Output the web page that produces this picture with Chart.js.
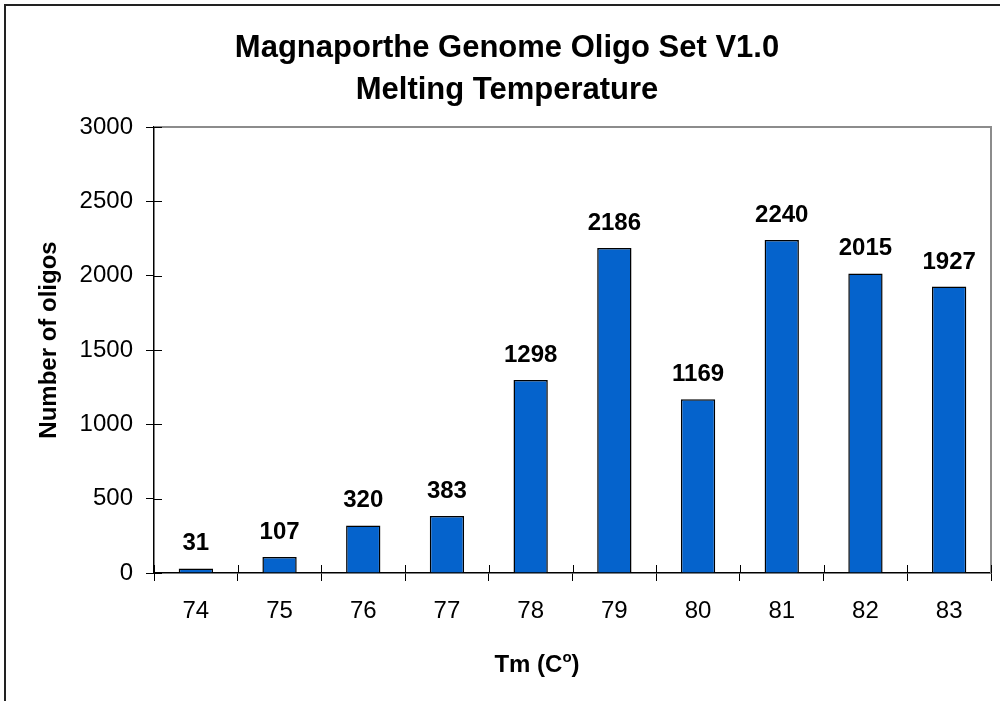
<!DOCTYPE html>
<html>
<head>
<meta charset="utf-8">
<script src="https://cdn.jsdelivr.net/npm/chart.js@4/dist/chart.umd.min.js"></script>
<style>
  html, body { margin: 0; padding: 0; background: #fff; }
  #wrap { width: 1000px; height: 701px; position: relative; }
</style>
</head>
<body>
<div id="wrap"><canvas id="tmChart" width="1000" height="701"></canvas></div>
<script>
// data
const categories = ['74', '75', '76', '77', '78', '79', '80', '81', '82', '83'];
const oligoCounts = [31, 107, 320, 383, 1298, 2186, 1169, 2240, 2015, 1927];
const yTicks = [0, 500, 1000, 1500, 2000, 2500, 3000];
const titleLines = ['Magnaporthe Genome Oligo Set V1.0', 'Melting Temperature'];
const yTitle = 'Number of oligos';

const FONT = 'Arial, "Liberation Sans", Helvetica, sans-serif';

// frame, titles, inner tick halves, plot border and bar labels
const decorations = {
    id: 'decorations',
    beforeDraw(chart) {
        const c = chart.ctx;
        c.save();
        c.fillStyle = '#fff';
        c.fillRect(0, 0, chart.width, chart.height);
        c.strokeStyle = '#222';
        c.lineWidth = 2;
        c.beginPath();
        c.moveTo(5, chart.height);
        c.lineTo(5, 5);
        c.lineTo(chart.width, 5);
        c.stroke();
        c.restore();
    },
    afterDraw(chart) {
        const c = chart.ctx;
        const a = chart.chartArea;
        const y = chart.scales.y;
        c.save();

        // gray plot border top/right
        c.strokeStyle = '#8c8c8c';
        c.lineWidth = 2;
        c.beginPath();
        c.moveTo(a.left, a.top);
        c.lineTo(a.right, a.top);
        c.lineTo(a.right, a.bottom);
        c.stroke();

        // inner half of the crossing ticks
        c.strokeStyle = '#000';
        c.lineWidth = 1;
        c.beginPath();
        yTicks.forEach(v => {
            const py = Math.round(y.getPixelForValue(v)) + 0.5;
            c.moveTo(a.left, py);
            c.lineTo(a.left + 8, py);
        });
        const step = (a.right - a.left) / categories.length;
        for (let i = 0; i <= categories.length; i++) {
            const px = Math.round(a.left + i * step) + 0.5;
            c.moveTo(px, a.bottom);
            c.lineTo(px, a.bottom - 8);
        }
        c.stroke();

        // value labels
        c.fillStyle = '#000';
        c.font = 'bold 24px ' + FONT;
        c.textAlign = 'center';
        c.textBaseline = 'alphabetic';
        chart.getDatasetMeta(0).data.forEach((bar, i) => {
            c.fillText(String(oligoCounts[i]), bar.x, bar.y - 18);
        });

        // chart title
        c.font = 'bold 31px ' + FONT;
        c.fillText(titleLines[0], 507, 57);
        c.fillText(titleLines[1], 507, 99);

        // y axis title
        c.font = 'bold 24px ' + FONT;
        c.save();
        c.translate(56, 340);
        c.rotate(-Math.PI / 2);
        c.fillText(yTitle, 0, 0);
        c.restore();

        // x axis title with superscript o
        c.textAlign = 'left';
        const base = 'Tm (C';
        c.font = 'bold 24px ' + FONT;
        const w1 = c.measureText(base).width;
        c.font = 'bold 15px ' + FONT;
        const w2 = c.measureText('o').width;
        c.font = 'bold 24px ' + FONT;
        const w3 = c.measureText(')').width;
        let sx = 537 - (w1 + w2 + w3) / 2;
        const by = 672;
        c.fillText(base, sx, by);
        sx += w1;
        c.font = 'bold 15px ' + FONT;
        c.fillText('o', sx, by - 10);
        sx += w2;
        c.font = 'bold 24px ' + FONT;
        c.fillText(')', sx, by);
        c.restore();
    }
};

new Chart(document.getElementById('tmChart'), {
    type: 'bar',
    data: {
        labels: categories,
        datasets: [{
            data: oligoCounts,
            backgroundColor: '#0563cc',
            borderColor: '#000',
            borderWidth: 1.5,
            categoryPercentage: 1,
            barPercentage: 0.41
        }]
    },
    options: {
        responsive: false,
        animation: false,
        layout: { padding: { left: 0, top: 127, right: 9, bottom: 0 } },
        plugins: {
            legend: { display: false },
            title: { display: false },
            tooltip: { enabled: false }
        },
        scales: {
            x: {
                afterFit: s => { s.height = 128; },
                grid: { offset: true, drawOnChartArea: false, drawTicks: true, tickLength: 8, color: '#000' },
                border: { color: '#000', width: 1.5 },
                ticks: { color: '#000', font: { family: FONT, size: 24 }, padding: 16, maxRotation: 0 }
            },
            y: {
                min: 0,
                max: 3000,
                afterFit: s => { s.width = 154; },
                afterBuildTicks: s => { s.ticks = yTicks.map(v => ({ value: v })); },
                grid: { drawOnChartArea: false, drawTicks: true, tickLength: 8, color: '#000' },
                border: { color: '#000', width: 1.5 },
                ticks: {
                    color: '#000',
                    font: { family: FONT, size: 24 },
                    padding: 13,
                    callback: v => String(v)
                }
            }
        }
    },
    plugins: [decorations]
});
</script>
</body>
</html>
